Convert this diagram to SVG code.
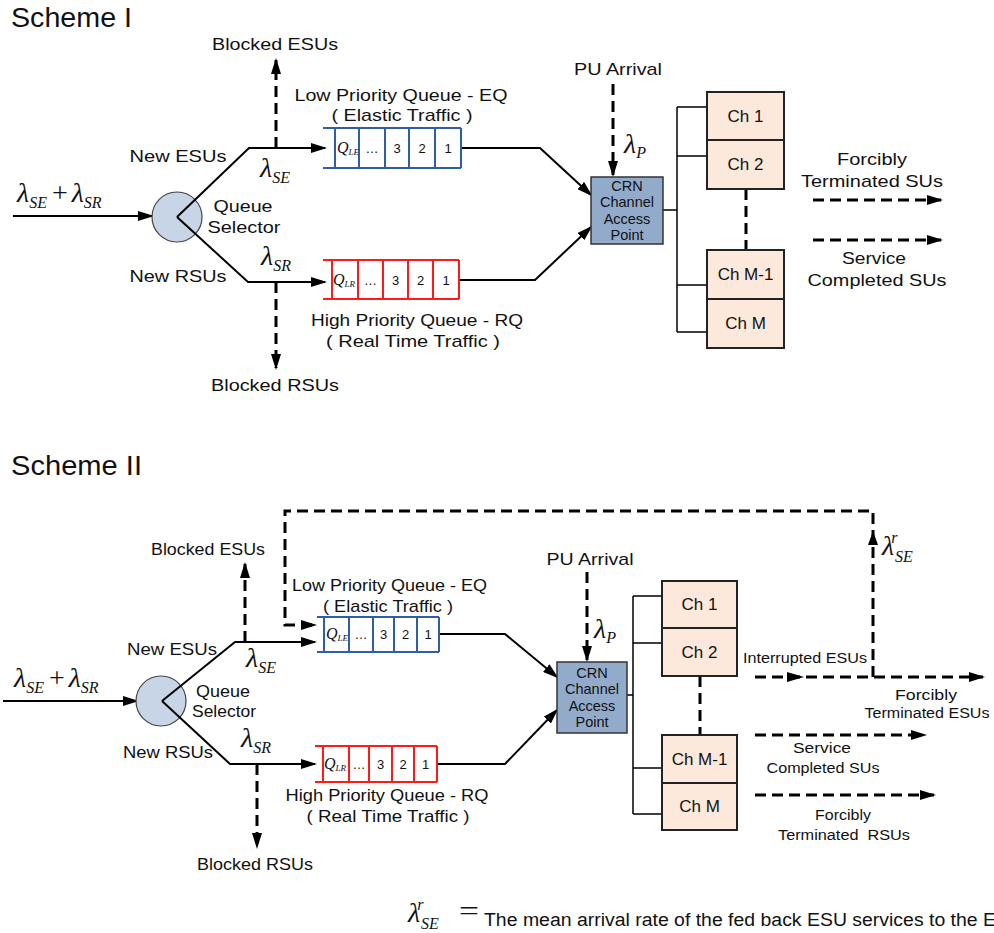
<svg xmlns="http://www.w3.org/2000/svg" width="994" height="933" viewBox="0 0 994 933">
<defs>
<style>
.t{font-family:"Liberation Sans",Arial,sans-serif;fill:#111;font-size:17px;text-anchor:middle}
.ts{font-family:"Liberation Sans",Arial,sans-serif;fill:#111;font-size:14px;text-anchor:middle}
.tc{font-family:"Liberation Sans",Arial,sans-serif;fill:#111;font-size:14.5px;text-anchor:middle}
.tq{font-family:"Liberation Sans",Arial,sans-serif;fill:#111;font-size:13px;text-anchor:middle}
.hd{font-family:"Liberation Sans",Arial,sans-serif;fill:#111;font-size:27px}
.gk{font-family:"Liberation Serif","Times New Roman",serif;font-style:italic;fill:#111;font-size:28px}
.sb{font-size:16px}
.qs{font-family:"Liberation Serif","Times New Roman",serif;font-style:italic;fill:#111;font-size:16px}
.ln{stroke:#000;stroke-width:2;fill:none}
.th{stroke:#000;stroke-width:1.5;fill:none}
.ds{stroke:#000;stroke-width:3;stroke-dasharray:11 6;fill:none}
.qb{stroke:#2e5ea8;stroke-width:2;fill:none}
.qr{stroke:#ff1a1a;stroke-width:2;fill:none}
.sel{fill:#c8d5e6;stroke:#444;stroke-width:1.2}
.crn{fill:#93abcb;stroke:#333;stroke-width:1.5}
.ch{fill:#fce9db;stroke:#222;stroke-width:2}
.ah{fill:#000}
</style>
<marker id="a" viewBox="0 0 16 10" markerWidth="16" markerHeight="10" refX="14" refY="5" orient="auto" markerUnits="userSpaceOnUse"><path d="M0,0 L16,5 L0,10 z" fill="#000"/></marker>
</defs>
<rect width="994" height="933" fill="#fff"/>

<!-- ============ SCHEME I ============ -->
<text class="hd" x="11" y="27" textLength="121" lengthAdjust="spacingAndGlyphs">Scheme I</text>

<g id="connectors1">
<path class="ln" d="M13,216 H152" marker-end="url(#a)"/>
<path class="ln" d="M152,216 H177"/>
<path class="ds" d="M276,148 V60" marker-end="url(#a)"/>
<path class="ds" d="M276,282 V368" marker-end="url(#a)"/>
<path class="ln" d="M461,148 H540 L591,195" marker-end="url(#a)"/>
<path class="ln" d="M459,280 H535 L591,227" marker-end="url(#a)"/>
<path class="ds" d="M613,84 V175" marker-end="url(#a)"/>
<path class="th" d="M663,210 H677 M677,107 V332 M677,107 H707 M677,156 H707 M677,285 H707 M677,332 H707"/>
<path class="ds" d="M746,189 V250"/>
<path class="ds" d="M813,200 H941" marker-end="url(#a)"/>
<path class="ds" d="M813,240 H941" marker-end="url(#a)"/>
</g>

<g id="selector1">
<circle class="sel" cx="177" cy="217" r="25"/>
<path class="ln" d="M177,217 L249,148 H325" marker-end="url(#a)"/>
<path class="ln" d="M177,217 L248,282 H325" marker-end="url(#a)"/>
<text class="t" x="243" y="212" textLength="59" lengthAdjust="spacingAndGlyphs">Queue</text>
<text class="t" x="244" y="233" textLength="73" lengthAdjust="spacingAndGlyphs">Selector</text>
</g>

<g id="labels1">
<text class="gk" x="17" y="202">λ<tspan class="sb" dy="6">SE</tspan><tspan dy="-6" font-style="normal" dx="5">+</tspan><tspan dx="4">λ</tspan><tspan class="sb" dy="6">SR</tspan></text>
<text class="t" x="178" y="162" textLength="97" lengthAdjust="spacingAndGlyphs">New ESUs</text>
<text class="t" x="178" y="282" textLength="97" lengthAdjust="spacingAndGlyphs">New RSUs</text>
<text class="gk" x="260" y="177">λ<tspan class="sb" dy="6">SE</tspan></text>
<text class="gk" x="261" y="265">λ<tspan class="sb" dy="6">SR</tspan></text>
<text class="t" x="275" y="50" textLength="126" lengthAdjust="spacingAndGlyphs">Blocked ESUs</text>
<text class="t" x="275" y="391" textLength="128" lengthAdjust="spacingAndGlyphs">Blocked RSUs</text>
<text class="t" x="618" y="75" textLength="88" lengthAdjust="spacingAndGlyphs">PU Arrival</text>
<text class="gk" x="624" y="153">λ<tspan class="sb" dy="5">P</tspan></text>
</g>

<g id="eq1">
<text class="t" x="401" y="101" textLength="213" lengthAdjust="spacingAndGlyphs">Low Priority Queue - EQ</text>
<text class="t" x="402" y="121" textLength="141" lengthAdjust="spacingAndGlyphs">( Elastic Traffic )</text>
<path class="qb" d="M323,128 H461 M323,168 H461 M335,128 V168 M359,128 V168 M385,128 V168 M409,128 V168 M435,128 V168 M461,128 V168"/>
<text class="qs" x="337" y="153">Q<tspan font-size="9" dy="2">LE</tspan></text>
<text class="tq" x="372" y="153">…</text>
<text class="tq" x="397" y="153">3</text>
<text class="tq" x="422" y="153">2</text>
<text class="tq" x="448" y="153">1</text>
</g>

<g id="rq1">
<path class="qr" d="M323,260 H459 M323,299 H459 M332,260 V299 M358,260 V299 M383,260 V299 M408,260 V299 M433,260 V299 M459,260 V299"/>
<text class="qs" x="333" y="285">Q<tspan font-size="9" dy="2">LR</tspan></text>
<text class="tq" x="370.5" y="285">…</text>
<text class="tq" x="395.5" y="285">3</text>
<text class="tq" x="420.5" y="285">2</text>
<text class="tq" x="446" y="285">1</text>
<text class="t" x="417" y="326" textLength="212" lengthAdjust="spacingAndGlyphs">High Priority Queue - RQ</text>
<text class="t" x="413" y="347" textLength="174" lengthAdjust="spacingAndGlyphs">( Real Time Traffic )</text>
</g>

<g id="crn1">
<rect class="crn" x="591" y="177" width="72" height="67"/>
<text class="tc" x="627" y="191">CRN</text>
<text class="tc" x="627" y="207">Channel</text>
<text class="tc" x="627" y="224">Access</text>
<text class="tc" x="627" y="240">Point</text>
</g>

<g id="ch1_1"><rect class="ch" x="707" y="92" width="77" height="48"/><text class="t" x="745.5" y="122">Ch 1</text></g>
<g id="ch2_1"><rect class="ch" x="707" y="140" width="77" height="49"/><text class="t" x="745.5" y="170">Ch 2</text></g>
<g id="chm1_1"><rect class="ch" x="707" y="250" width="77" height="49"/><text class="t" x="745.5" y="280">Ch M-1</text></g>
<g id="chm_1"><rect class="ch" x="707" y="299" width="77" height="49"/><text class="t" x="745.5" y="329">Ch M</text></g>

<g id="out1">
<text class="t" x="872" y="165" textLength="70" lengthAdjust="spacingAndGlyphs">Forcibly</text>
<text class="t" x="872" y="187" textLength="142" lengthAdjust="spacingAndGlyphs">Terminated SUs</text>
<text class="t" x="874" y="264" textLength="64" lengthAdjust="spacingAndGlyphs">Service</text>
<text class="t" x="877" y="286" textLength="139" lengthAdjust="spacingAndGlyphs">Completed SUs</text>
</g>

<!-- ============ SCHEME II ============ -->
<text class="hd" x="11" y="475" textLength="131" lengthAdjust="spacingAndGlyphs">Scheme II</text>

<g id="connectors2">
<path class="ln" d="M3,701 H137" marker-end="url(#a)"/>
<path class="ln" d="M137,701 H162"/>
<path class="ds" d="M245,642 V564" marker-end="url(#a)"/>
<path class="ds" d="M257,764 V847" marker-end="url(#a)"/>
<path class="ds" d="M873,677 V511 H285 V625 H315" marker-end="url(#a)"/>
<polygon class="ah" points="873,531 868,545 878,545"/>
<path class="ds" d="M755,677 H983" marker-end="url(#a)"/>
<polygon class="ah" points="787,672 804,677 787,682"/>
<path class="ln" d="M439,634 H505 L557,677" marker-end="url(#a)"/>
<path class="ln" d="M437,764 H505 L557,710" marker-end="url(#a)"/>
<path class="ds" d="M587,572 V660" marker-end="url(#a)"/>
<path class="th" d="M627,695 H633 M633,596 V814 M633,596 H662 M633,643 H662 M633,768 H662 M633,814 H662"/>
<path class="ds" d="M700,676 V735"/>
<path class="ds" d="M755,735 H925" marker-end="url(#a)"/>
<path class="ds" d="M755,795 H934" marker-end="url(#a)"/>
</g>

<g id="selector2">
<circle class="sel" cx="161" cy="701" r="25"/>
<path class="ln" d="M162,701 L235,642 H315" marker-end="url(#a)"/>
<path class="ln" d="M162,701 L230,764 H315" marker-end="url(#a)"/>
<text class="t" x="223" y="697" textLength="54" lengthAdjust="spacingAndGlyphs">Queue</text>
<text class="t" x="224" y="717" textLength="64" lengthAdjust="spacingAndGlyphs">Selector</text>
</g>

<g id="labels2">
<text class="gk" x="14" y="687">λ<tspan class="sb" dy="6">SE</tspan><tspan dy="-6" font-style="normal" dx="5">+</tspan><tspan dx="4">λ</tspan><tspan class="sb" dy="6">SR</tspan></text>
<text class="t" x="172" y="655" textLength="90" lengthAdjust="spacingAndGlyphs">New ESUs</text>
<text class="t" x="168" y="758" textLength="90" lengthAdjust="spacingAndGlyphs">New RSUs</text>
<text class="gk" x="246" y="667">λ<tspan class="sb" dy="6">SE</tspan></text>
<text class="gk" x="241" y="747">λ<tspan class="sb" dy="6">SR</tspan></text>
<text class="t" x="208" y="555" textLength="114" lengthAdjust="spacingAndGlyphs">Blocked ESUs</text>
<text class="t" x="255" y="870" textLength="116" lengthAdjust="spacingAndGlyphs">Blocked RSUs</text>
<text class="t" x="590" y="565" textLength="87" lengthAdjust="spacingAndGlyphs">PU Arrival</text>
<text class="gk" x="594" y="638">λ<tspan class="sb" dy="5">P</tspan></text>
<text class="gk" x="882" y="555">λ<tspan class="sb" dy="-12" dx="-3">r</tspan><tspan class="sb" x="895" y="562">SE</tspan></text>
<text class="ts" x="805" y="663" textLength="124" lengthAdjust="spacingAndGlyphs">Interrupted ESUs</text>
</g>

<g id="eq2">
<text class="t" x="389.5" y="591" textLength="195" lengthAdjust="spacingAndGlyphs">Low Priority Queue - EQ</text>
<text class="t" x="388" y="612" textLength="130" lengthAdjust="spacingAndGlyphs">( Elastic Traffic )</text>
<path class="qb" d="M317,617 H439 M317,652 H439 M324,617 V652 M349,617 V652 M373,617 V652 M394,617 V652 M417,617 V652 M439,617 V652"/>
<text class="qs" x="326" y="639">Q<tspan font-size="9" dy="2">LE</tspan></text>
<text class="tq" x="361" y="639">…</text>
<text class="tq" x="383.5" y="639">3</text>
<text class="tq" x="405.5" y="639">2</text>
<text class="tq" x="428" y="639">1</text>
</g>

<g id="rq2">
<path class="qr" d="M315,746 H437 M315,782 H437 M323,746 V782 M349,746 V782 M369,746 V782 M392,746 V782 M414,746 V782 M437,746 V782"/>
<text class="qs" x="324" y="769">Q<tspan font-size="9" dy="2">LR</tspan></text>
<text class="tq" x="359" y="769">…</text>
<text class="tq" x="380.5" y="769">3</text>
<text class="tq" x="403" y="769">2</text>
<text class="tq" x="425.5" y="769">1</text>
<text class="t" x="387" y="801" textLength="203" lengthAdjust="spacingAndGlyphs">High Priority Queue - RQ</text>
<text class="t" x="388" y="822" textLength="163" lengthAdjust="spacingAndGlyphs">( Real Time Traffic )</text>
</g>

<g id="crn2">
<rect class="crn" x="557" y="662" width="70" height="71"/>
<text class="tc" x="592" y="678">CRN</text>
<text class="tc" x="592" y="694">Channel</text>
<text class="tc" x="592" y="711">Access</text>
<text class="tc" x="592" y="727">Point</text>
</g>

<g id="ch1_2"><rect class="ch" x="662" y="581" width="75" height="47"/><text class="t" x="699.5" y="610">Ch 1</text></g>
<g id="ch2_2"><rect class="ch" x="662" y="628" width="75" height="48"/><text class="t" x="699.5" y="658">Ch 2</text></g>
<g id="chm1_2"><rect class="ch" x="662" y="735" width="75" height="48"/><text class="t" x="699.5" y="765">Ch M-1</text></g>
<g id="chm_2"><rect class="ch" x="662" y="783" width="75" height="47"/><text class="t" x="699.5" y="812">Ch M</text></g>

<g id="out2">
<text class="ts" x="926" y="700" textLength="62" lengthAdjust="spacingAndGlyphs">Forcibly</text>
<text class="ts" x="927" y="718" textLength="125" lengthAdjust="spacingAndGlyphs">Terminated ESUs</text>
<text class="ts" x="822" y="753" textLength="58" lengthAdjust="spacingAndGlyphs">Service</text>
<text class="ts" x="823" y="773" textLength="113" lengthAdjust="spacingAndGlyphs">Completed SUs</text>
<text class="ts" x="843" y="820" textLength="56" lengthAdjust="spacingAndGlyphs">Forcibly</text>
<text class="ts" x="844" y="840" textLength="132" lengthAdjust="spacingAndGlyphs" xml:space="preserve">Terminated  RSUs</text>
</g>

<g id="legend">
<text class="gk" x="408" y="922">λ<tspan class="sb" dy="-12" dx="-3">r</tspan><tspan class="sb" x="421" y="929">SE</tspan></text>
<text x="459" y="920" font-family="Liberation Serif,serif" font-size="28" textLength="20" lengthAdjust="spacingAndGlyphs" fill="#111">=</text>
<text x="484" y="926" font-family="Liberation Sans,Arial,sans-serif" font-size="18" fill="#111" textLength="512" lengthAdjust="spacingAndGlyphs">The mean arrival rate of the fed back ESU services to the E</text>
</g>
</svg>
